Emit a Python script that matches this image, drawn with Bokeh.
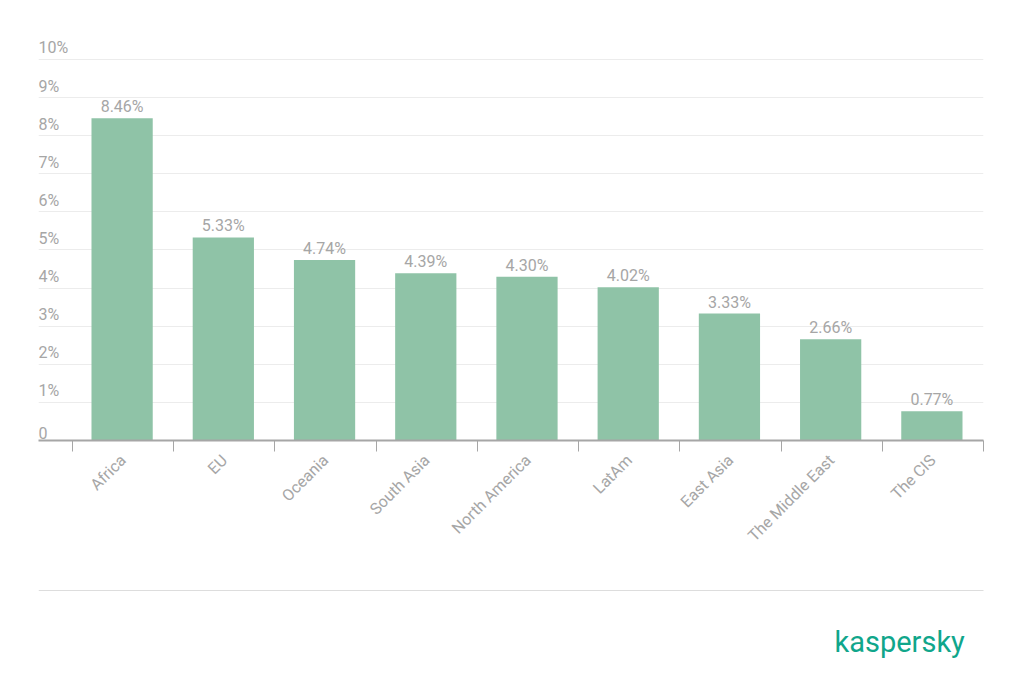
from bokeh.plotting import figure
from bokeh.models import Range1d, FixedTicker, ColumnDataSource
from bokeh.layouts import column
from bokeh.core.properties import value
from bokeh.embed import file_html
from bokeh.resources import INLINE
import math

regions = ["Africa", "EU", "Oceania", "South Asia", "North America", "LatAm",
           "East Asia", "The Middle East", "The CIS"]
shares = [8.46, 5.33, 4.74, 4.39, 4.30, 4.02, 3.33, 2.66, 0.77]
y_ticks = [0, 1, 2, 3, 4, 5, 6, 7, 8, 9, 10]
y_tick_labels = ["0", "1%", "2%", "3%", "4%", "5%", "6%", "7%", "8%", "9%", "10%"]

FONT = "Roboto"
GREY = "#a6a6a6"
BAR = "#8fc3a7"

n = len(regions)
centers = [i + 0.49 for i in range(n)]
x_start = -0.336

p = figure(width=1024, height=560, output_backend="svg", toolbar_location=None,
           x_range=Range1d(x_start, n), y_range=Range1d(0, 10.76),
           y_axis_location=None, min_border_left=38, min_border_right=41,
           min_border_top=30, min_border_bottom=120)
p.outline_line_color = None
p.background_fill_color = "white"
p.border_fill_color = "white"
p.xgrid.visible = False
p.ygrid.ticker = FixedTicker(ticks=y_ticks)
p.ygrid.grid_line_color = "#ececec"
p.ygrid.grid_line_width = 1

src = ColumnDataSource(dict(x=centers, top=shares,
                            lab=[f"{v:.2f}%" for v in shares]))
p.vbar(x="x", top="top", width=0.605, bottom=0, source=src,
       fill_color=BAR, line_color=None)
p.text(x="x", y="top", text="lab", source=src, text_align="center",
       text_baseline="bottom", y_offset=-2, text_font=value(FONT),
       text_font_size="16px", text_color=GREY)

ysrc = ColumnDataSource(dict(x=[x_start] * len(y_ticks), y=y_ticks, t=y_tick_labels))
p.text(x="x", y="y", text="t", source=ysrc, text_align="left",
       text_baseline="bottom", y_offset=-2, text_font=value(FONT),
       text_font_size="16px", text_color=GREY)

ax = p.xaxis[0]
ax.ticker = FixedTicker(ticks=[i + 0.5 for i in range(n)], minor_ticks=list(range(n + 1)))
ax.major_label_overrides = {i + 0.5: r for i, r in enumerate(regions)}
ax.major_label_orientation = math.pi / 4
ax.major_tick_line_color = None
ax.major_tick_out = 0
ax.major_tick_in = 0
ax.minor_tick_line_color = GREY
ax.minor_tick_line_width = 1
ax.minor_tick_out = 11
ax.minor_tick_in = 0
ax.axis_line_color = GREY
ax.axis_line_width = 2
ax.major_label_standoff = 6
ax.major_label_text_font = FONT
ax.major_label_text_font_size = "16px"
ax.major_label_text_color = GREY

f2 = figure(width=1024, height=135, output_backend="svg", toolbar_location=None,
            x_range=Range1d(38, 983), y_range=Range1d(0, 135),
            x_axis_location=None, y_axis_location=None,
            min_border_left=38, min_border_right=41,
            min_border_top=0, min_border_bottom=0)
f2.outline_line_color = None
f2.grid.visible = False
f2.segment(x0=[38], y0=[105], x1=[985], y1=[105], line_color="#dddddd", line_width=1)
f2.text(x=[834], y=[54], text=["kaspersky"], text_align="left",
        text_baseline="alphabetic", text_font=value(FONT),
        text_font_size="29px", text_color="#10a68b")

layout = column(p, f2, spacing=0)
open("out.html", "w").write(file_html(layout, INLINE))
